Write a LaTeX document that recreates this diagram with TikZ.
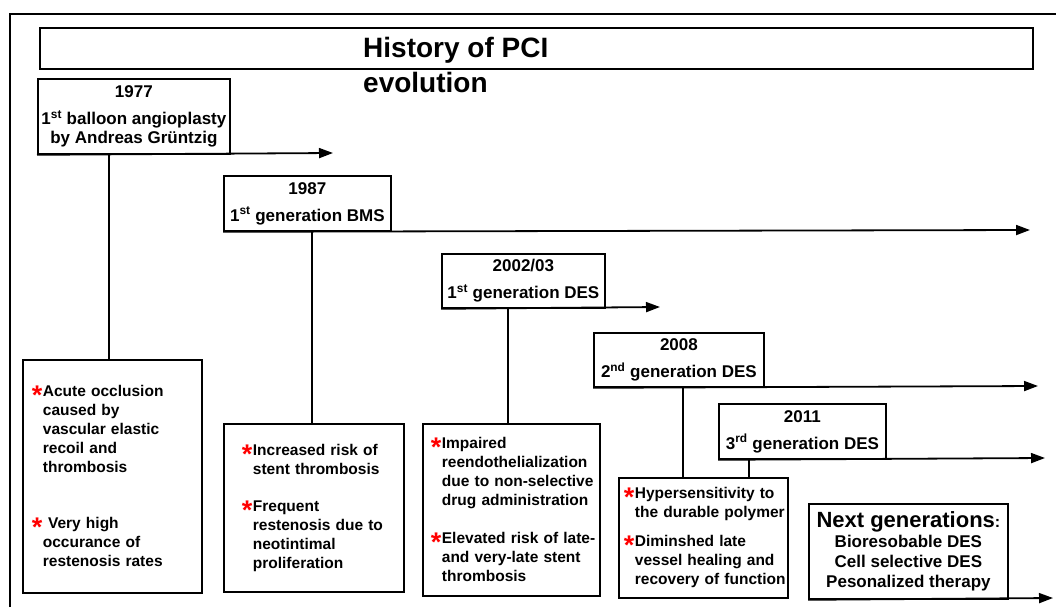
\documentclass[tikz,border=0pt]{standalone}
\usepackage{fontspec}
\setmainfont{Liberation Sans}
\usepackage{tikz}
\usetikzlibrary{arrows.meta}
\usepackage{xcolor}

% red star for the first line of a point, indent for the others
\newcommand{\rstar}[1]{\mbox{\makebox[9pt][l]{\hspace*{-2pt}\smash{\raisebox{-8pt}{\textcolor{red}{\fontsize{27}{19}\selectfont *}}}}#1}}
\newcommand{\rline}[1]{\mbox{\hspace*{9pt}#1}}

\begin{document}
\begin{tikzpicture}[x=1pt, y=-1pt,
    yearbox/.style={draw, rectangle, line width=1.8pt, anchor=north west, inner sep=0pt, align=center, font=\fontsize{17}{19}\selectfont\bfseries},
    issuebox/.style={draw, rectangle, line width=1.8pt, anchor=north west, inner ysep=0pt, align=left, font=\fontsize{15.5}{19}\selectfont\bfseries},
    timeline/.style={line width=1.8pt, -{Triangle[length=14pt,width=10pt]}},
    link/.style={line width=2pt}]
    \useasboundingbox (0,0) rectangle (1056,607);
    \fill[white] (0,0) rectangle (1056,607);

    % outer frame
    \draw[line width=1.2pt] (10,607) -- (10,14) -- (1056,14);

    % title
    \node[draw, rectangle, line width=1.8pt, anchor=north west, minimum width=993, minimum height=41, inner sep=0pt] (titlebar) at (39,27) {};
    \node[anchor=north west, inner sep=0pt, align=left, font=\fontsize{28}{35}\selectfont\bfseries] (title) at (363,36.6) {History of PCI\\evolution};

    % 1977
    \node[yearbox, minimum width=192, minimum height=75] (y1977) at (37,78) {1977\\[8pt]1\textsuperscript{st} balloon angioplasty\\by Andreas Grüntzig};
    \coordinate (e1977) at (333,153);
    \draw[timeline] (y1977.south west) -- (e1977);
    \node[issuebox, inner xsep=11pt, text width=157pt, minimum height=233] (i1977) at (22,359) {\rstar{Acute occlusion}\\\rline{caused by}\\\rline{vascular elastic}\\\rline{recoil and}\\\rline{thrombosis}\\[37pt]\rstar{\ Very high}\\\rline{occurance of}\\\rline{restenosis rates}};
    \coordinate (k1977) at ([xshift=87pt]i1977.north west);
    \draw[link] (k1977) -- (k1977 |- y1977.south);

    % 1987
    \node[yearbox, minimum width=167, minimum height=55] (y1987) at (223,175) {1987\\[8pt]1\textsuperscript{st} generation BMS};
    \coordinate (e1987) at (1030,230);
    \draw[timeline] (y1987.south west) -- (e1987);
    \node[issuebox, inner xsep=20pt, text width=140pt, minimum height=168] (i1987) at (223,423) {\rstar{Increased risk of}\\\rline{stent thrombosis}\\[18pt]\rstar{Frequent}\\\rline{restenosis due to}\\\rline{neotintimal}\\\rline{proliferation}};
    \coordinate (k1987) at ([xshift=89pt]i1987.north west);
    \draw[link] (k1987) -- (k1987 |- y1987.south);

    % 2002/03
    \node[yearbox, minimum width=163, minimum height=54] (y2002) at (441,253) {2002/03\\[8pt]1\textsuperscript{st} generation DES};
    \coordinate (e2002) at (660,307);
    \draw[timeline] (y2002.south west) -- (e2002);
    \node[issuebox, inner xsep=10pt, text width=157pt, minimum height=172] (i2002) at (422,423) {\rstar{Impaired}\\\rline{reendothelialization}\\\rline{due to non-selective}\\\rline{drug administration}\\[19pt]\rstar{Elevated risk of late-}\\\rline{and very-late stent}\\\rline{thrombosis}};
    \coordinate (k2002) at ([xshift=86pt]i2002.north west);
    \draw[link] (k2002) -- (k2002 |- y2002.south);

    % 2008
    \node[yearbox, minimum width=170, minimum height=54] (y2008) at (593,332) {2008\\[8pt]2\textsuperscript{nd} generation DES};
    \coordinate (e2008) at (1038,386);
    \draw[timeline] (y2008.south west) -- (e2008);
    \node[issuebox, inner xsep=7pt, text width=155pt, minimum height=120] (i2008) at (618,477) {\rstar{Hypersensitivity to}\\\rline{the durable polymer}\\[10pt]\rstar{Diminshed late}\\\rline{vessel healing and}\\\rline{recovery of function}};
    \coordinate (k2008) at ([xshift=65pt]i2008.north west);
    \draw[link] (k2008) -- (k2008 |- y2008.south);

    % 2011
    \node[yearbox, minimum width=167, minimum height=55] (y2011) at (718,403) {2011\\[8pt]3\textsuperscript{rd} generation DES};
    \coordinate (e2011) at (1045,458);
    \draw[timeline] (y2011.south west) -- (e2011);
    \coordinate (k2011) at ([xshift=131pt]i2008.north west);
    \draw[link] (k2011) -- (k2011 |- y2011.south);

    % next generations
    \node[draw, rectangle, line width=1.8pt, anchor=north west, minimum width=199, minimum height=95, inner sep=0pt, align=center, font=\fontsize{17}{20}\selectfont\bfseries] (nextgen) at (808,503) {{\fontsize{22}{24}\selectfont Next generations\fontsize{16}{20}\selectfont:}\\Bioresobable DES\\Cell selective DES\\Pesonalized therapy};
    \coordinate (enext) at (1053,598);
    \draw[timeline] (nextgen.south west) -- (enext);
\end{tikzpicture}
\end{document}
